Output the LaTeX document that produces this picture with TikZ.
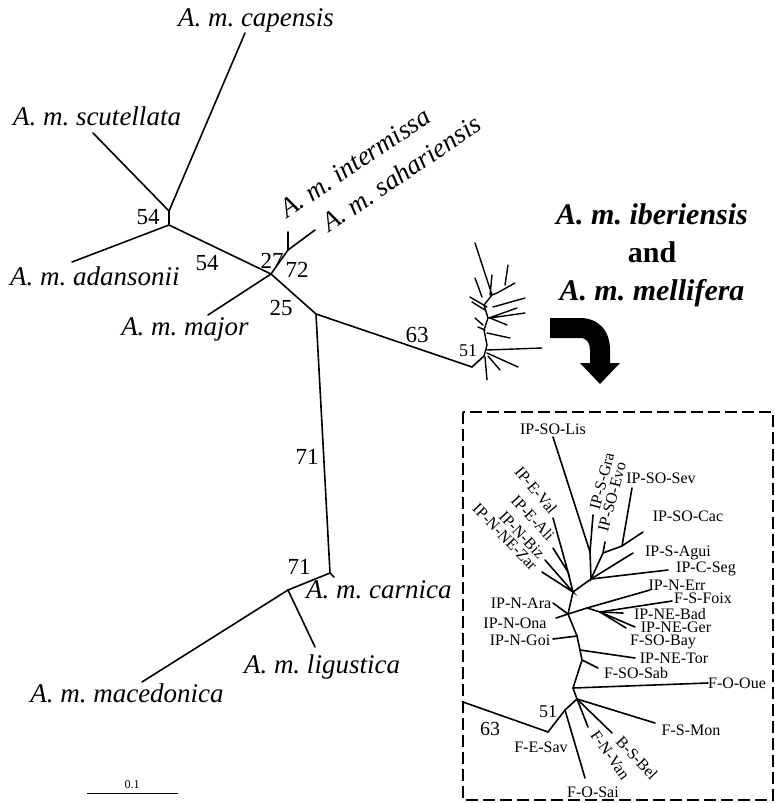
\documentclass[tikz,border=0pt]{standalone}
\usepackage{fontspec}
\setmainfont{Liberation Serif}
\frenchspacing

\begin{document}
\begin{tikzpicture}[x=1pt,y=-1pt]
\tikzstyle{br} = [line width=1.6pt, line cap=round]
\tikzstyle{taxon} = [font=\fontsize{27}{29}\selectfont\itshape, inner sep=0pt]
\tikzstyle{boot} = [font=\fontsize{23}{25}\selectfont, inner sep=0pt]
\tikzstyle{pop} = [font=\fontsize{16}{18}\selectfont, inner sep=0pt]
\useasboundingbox (0,0) rectangle (775,803);

% main tree
\coordinate (cap) at (245,33);
\coordinate (scu) at (93,133);
\coordinate (ada) at (72,262);
\coordinate (j54a) at (169,211);
\coordinate (j54b) at (169,225);
\coordinate (j27) at (271,274);
\coordinate (maj) at (208,315);
\coordinate (j72) at (288,250);
\coordinate (int) at (288,232);
\coordinate (sah) at (315,230);
\coordinate (j25) at (316,314);
\coordinate (ib0) at (472,367);
\coordinate (ib1) at (484,356);
\coordinate (j71) at (330,573);
\coordinate (carT) at (334,577);
\coordinate (jl) at (288,590);
\coordinate (lig) at (315,647);
\coordinate (mac) at (142,682);

\draw[br] (j54b) -- (j54a) -- (cap);
\draw[br] (scu) -- (j54a);
\draw[br] (ada) -- (j54b) -- (j27) -- (j72) -- (int);
\draw[br] (j72) -- (sah);
\draw[br] (maj) -- (j27) -- (j25) -- (ib0) -- (ib1);
\draw[br] (j25) -- (j71) -- (carT);
\draw[br] (j71) -- (jl) -- (lig);
\draw[br] (jl) -- (mac);

\node[taxon, anchor=base] (tcap) at (256,26) {A. m. capensis};
\node[taxon, anchor=base] (tscu) at (97,125) {A. m. scutellata};
\node[taxon, anchor=base] (tada) at (95,285) {A. m. adansonii};
\node[taxon, anchor=base] (tmaj) at (185,335) {A. m. major};
\node[taxon, anchor=base west, rotate=34] (tint) at (287,219) {A. m. intermissa};
\node[taxon, anchor=base west, rotate=34] (tsah) at (329,233) {A. m. sahariensis};
\node[taxon, anchor=base west] (tcar) at (306,598) {A. m. carnica};
\node[taxon, anchor=base] (tlig) at (322,673) {A. m. ligustica};
\node[taxon, anchor=base] (tmac) at (127,702) {A. m. macedonica};

\node[boot] (b54a) at (148,217) {54};
\node[boot] (b54b) at (207,263) {54};
\node[boot] (b27) at (272,261) {27};
\node[boot] (b72) at (297,270) {72};
\node[boot] (b25) at (281,308) {25};
\node[boot] (b63) at (417,335) {63};
\node[boot] (b71a) at (307,457) {71};
\node[boot] (b71b) at (299,567) {71};
\node[boot, font=\fontsize{18}{20}\selectfont] (b51m) at (468,351) {51};

% small iberiensis / mellifera tree
\draw[line width=1.4pt, line cap=round]
  (ib1) -- (487,345) -- (484,330) -- (488,318) -- (484,305) -- (492,295) -- (497,293) -- (515,283)
  (475,243) -- (492,295)  (492,275) -- (490,295)  (508,265) -- (505,285)
  (475,278) -- (482,297)  (470,297) -- (487,307)  (472,302) -- (485,310)
  (525,298) -- (493,307)  (517,308) -- (489,318)  (525,313) -- (490,318)
  (507,325) -- (490,318)  (475,318) -- (483,325)  (478,327) -- (485,330)
  (510,338) -- (487,333)  (542,348) -- (487,350)  (518,367) -- (487,353)
  (500,370) -- (488,356)  (487,380) -- (485,357);

% heading and arrow
\node[font=\fontsize{30}{38}\selectfont\bfseries, align=center, inner sep=0pt] (head) at (652,255)
  {\textit{A. m. iberiensis}\\and\\\textit{A. m. mellifera}};
\fill (550,318) -- (580,318) .. controls (598,318) and (610,330) .. (610,350) -- (610,363)
  -- (620,363) -- (600,384) -- (580,363) -- (590,363) -- (590,350)
  .. controls (590,343) and (587,338) .. (580,338) -- (550,338) -- cycle;

% inset
\draw[line width=1.6pt, dash pattern=on 12pt off 5pt] (463,412) rectangle (773,800);

\coordinate (Lis) at (553,437);
\coordinate (Gra) at (593,515);
\coordinate (Evo) at (605,542);
\coordinate (Sev) at (632,488);
\coordinate (Cac) at (643,532);
\coordinate (Agui) at (633,553);
\coordinate (Seg) at (668,570);
\coordinate (Val) at (553,518);
\coordinate (Ali) at (553,548);
\coordinate (Biz) at (545,560);
\coordinate (Zar) at (542,572);
\coordinate (Err) at (650,590);
\coordinate (Foix) at (672,601);
\coordinate (Bad) at (623,613);
\coordinate (Ger) at (635,627);
\coordinate (Bay) at (626,628);
\coordinate (Ara) at (553,603);
\coordinate (Ona) at (556,618);
\coordinate (Goi) at (553,639);
\coordinate (Tor) at (635,658);
\coordinate (Sab) at (598,668);
\coordinate (Oue) at (708,683);
\coordinate (Mon) at (655,723);
\coordinate (Bel) at (612,733);
\coordinate (Van) at (588,727);
\coordinate (Sai) at (585,778);
\coordinate (Sav) at (548,732);
\coordinate (out63) at (463,702);

\coordinate (n1) at (590,552);
\coordinate (ej) at (603,553);
\coordinate (sj) at (622,546);
\coordinate (n2) at (591,579);
\coordinate (z1) at (568,572);
\coordinate (p1) at (573,592);
\coordinate (a1) at (568,614);
\coordinate (g1) at (587,608);
\coordinate (g2) at (600,612);
\coordinate (gj) at (577,636);
\coordinate (t1) at (580,650);
\coordinate (s1) at (582,660);
\coordinate (p7) at (573,688);
\coordinate (r1) at (577,699);
\coordinate (n51) at (565,710);

\draw[br] (Lis) -- (n1) -- (Gra);
\draw[br] (n1) -- (n2) -- (ej) -- (Evo);
\draw[br] (ej) -- (sj) -- (Sev);
\draw[br] (sj) -- (Cac);
\draw[br] (n2) -- (Agui);
\draw[br] (n2) -- (Seg);
\draw[br] (Val) -- (z1) -- (Ali);
\draw[br] (z1) -- (p1) -- (n2);
\draw[br] (Biz) -- (p1) -- (Zar);
\draw[br] (p1) -- (a1) -- (gj) -- (t1) -- (s1) -- (p7) -- (r1) -- (n51) -- (Sav) -- (out63);
\draw[br] (Ara) -- (a1) -- (Ona);
\draw[br] (a1) -- (g1) -- (Err);
\draw[br] (g1) -- (g2) -- (Foix);
\draw[br] (g2) -- (Bad);
\draw[br] (g2) -- (Ger);
\draw[br] (g2) -- (Bay);
\draw[br] (Goi) -- (gj);
\draw[br] (t1) -- (Tor);
\draw[br] (s1) -- (Sab);
\draw[br] (p7) -- (Oue);
\draw[br] (r1) -- (Mon);
\draw[br] (r1) -- (Bel);
\draw[br] (r1) -- (Van);
\draw[br] (n51) -- (Sai);

\node[pop] (lLis) at (553,429) {IP-SO-Lis};
\node[pop] (lSev) at (661,478) {IP-SO-Sev};
\node[pop] (lCac) at (688,516) {IP-SO-Cac};
\node[pop] (lAgui) at (678,553) {IP-S-Agui};
\node[pop] (lSeg) at (706,569) {IP-C-Seg};
\node[pop] (lErr) at (677,585) {IP-N-Err};
\node[pop] (lFoix) at (703,598) {F-S-Foix};
\node[pop] (lBad) at (670,614) {IP-NE-Bad};
\node[pop] (lGer) at (676,627) {IP-NE-Ger};
\node[pop] (lBay) at (663,642) {F-SO-Bay};
\node[pop] (lAra) at (521,603) {IP-N-Ara};
\node[pop] (lOna) at (515,623) {IP-N-Ona};
\node[pop] (lGoi) at (520,640) {IP-N-Goi};
\node[pop] (lTor) at (674,658) {IP-NE-Tor};
\node[pop] (lSab) at (636,673) {F-SO-Sab};
\node[pop] (lOue) at (737,683) {F-O-Oue};
\node[pop] (lMon) at (691,730) {F-S-Mon};
\node[pop] (lSav) at (541,747) {F-E-Sav};
\node[pop] (lSai) at (593,792) {F-O-Sai};
\node[pop, rotate=75] (lGra) at (602,481) {IP-S-Gra};
\node[pop, rotate=75] (lEvo) at (612,497) {IP-SO-Evo};
\node[pop, rotate=-50] (lVal) at (536,490) {IP-E-Val};
\node[pop, rotate=-47] (lAli) at (533,518) {IP-E-Ali};
\node[pop, rotate=-47] (lBiz) at (522,535) {IP-N-Biz};
\node[pop, rotate=-46] (lZar) at (505,537) {IP-N-NE-Zar};
\node[pop, rotate=-47] (lBel) at (637,758) {B-S-Bel};
\node[pop, rotate=-55] (lVan) at (610,755) {F-N-Van};

\node[boot, font=\fontsize{18}{20}\selectfont] (b51) at (548,712) {51};
\node[boot, font=\fontsize{20}{22}\selectfont] (b63i) at (490,729) {63};

% scale bar
\coordinate (sb0) at (87,793);
\coordinate (sb1) at (178,793);
\draw[line width=0.8pt] (sb0) -- (sb1);
\node[font=\fontsize{12}{14}\selectfont, inner sep=0pt] (sbl) at (132,785) {0.1};
\end{tikzpicture}
\end{document}
